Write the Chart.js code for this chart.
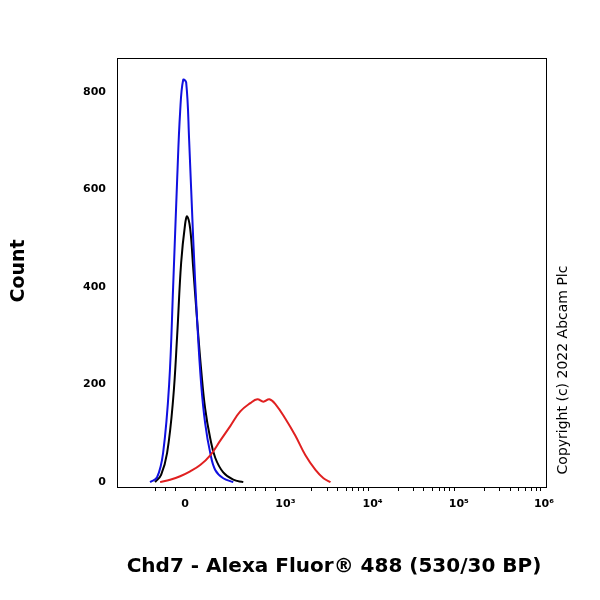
<!DOCTYPE html><html><head><script src="https://cdn.jsdelivr.net/npm/chart.js@4"></script>
<style>body{margin:0;background:#fff}</style></head><body><canvas id="c" width="600" height="600"></canvas>
<script>
// x values are in display (biexponential) units: 0 = zero, 100 = 10^3, ~187 = 10^4, ~273 = 10^5, ~358 = 10^6
const blueX=[-35,-28,-22,-16,-12,-8,-5,-2,1,4,8,12,16,20,25,30,38,48];
const blueY=[0,10,60,200,400,620,760,825,820,700,500,330,200,120,60,25,8,0];
const blackX=[-30,-24,-18,-12,-8,-4,0,2,5,8,12,16,20,25,30,38,48,58];
const blackY=[0,15,60,170,300,450,530,545,520,440,330,230,150,90,50,20,5,0];
const redX=[-25,-15,-5,5,15,25,35,45,55,65,72,78,84,90,100,110,120,130,138,145];
const redY=[0,5,12,22,35,55,85,115,145,162,170,165,170,160,130,95,55,25,8,0];
const xTickPos=[0,100,187,273,358];
const xTickLab=['0','10³','10⁴','10⁵','10⁶'];
const yTicks=[0,200,400,600,800];
function pts(xs,ys){return xs.map((x,i)=>({x,y:ys[i]}));}
function decPos(v){return 100+86*(Math.log10(v)-3);}
const minor=[];
for(let k=3;k<6;k++)for(let m=2;m<10;m++)minor.push(decPos(m*Math.pow(10,k)));
[-30,-20,-10,10,20,30,40,50,60,70,80,90].forEach(v=>minor.push(v));
const deco={id:'deco',afterDraw(ch){const c=ch.ctx,a=ch.chartArea;c.save();
c.strokeStyle='#000';c.lineWidth=1;c.strokeRect(a.left+.5,a.top+.5,a.right-a.left,a.bottom-a.top);
const xs=ch.scales.x;c.beginPath();minor.forEach(v=>{const p=Math.round(xs.getPixelForValue(v))+.5;c.moveTo(p,a.bottom);c.lineTo(p,a.bottom+4);});c.stroke();
c.fillStyle='#000';c.font='bold 20px "DejaVu Sans"';c.textAlign='center';
c.fillText('Chd7 - Alexa Fluor® 488 (530/30 BP)',334,572);
c.save();c.translate(24,271);c.rotate(-Math.PI/2);c.font='bold 19px "DejaVu Sans"';c.fillText('Count',0,0);c.restore();
c.font='14px "DejaVu Sans"';c.save();c.translate(567,370);c.rotate(-Math.PI/2);c.fillText('Copyright (c) 2022 Abcam Plc',0,0);c.restore();
c.restore();}};
const ds=(d,col)=>({data:d,borderColor:col,borderWidth:2,pointRadius:0,tension:0.4,fill:false});
new Chart(document.getElementById('c'),{type:'line',
data:{datasets:[ds(pts(redX,redY),'#e02020'),ds(pts(blueX,blueY),'#1010e0'),ds(pts(blackX,blackY),'#000')]},
options:{responsive:false,animation:false,layout:{padding:{top:58,right:54,left:0,bottom:0}},
plugins:{legend:{display:false},tooltip:{enabled:false}},
scales:{x:{type:'linear',min:-68,max:360,grid:{display:false,drawTicks:true},border:{color:'#000'},
afterBuildTicks:s=>{s.ticks=xTickPos.map(v=>({value:v}));},
afterFit:s=>{s.height=113;},
ticks:{color:'#000',font:{size:11,weight:'bold',family:'DejaVu Sans'},callback:(v)=>{const i=xTickPos.indexOf(v);return i>=0?xTickLab[i]:'';},maxRotation:0,autoSkip:false}},
y:{min:-10,max:870,grid:{display:false},border:{color:'#000'},
afterBuildTicks:s=>{s.ticks=yTicks.map(v=>({value:v}));},
afterFit:s=>{s.width=117;},
ticks:{color:'#000',font:{size:11,weight:'bold',family:'DejaVu Sans'}}}}},plugins:[deco]});
</script></body></html>
